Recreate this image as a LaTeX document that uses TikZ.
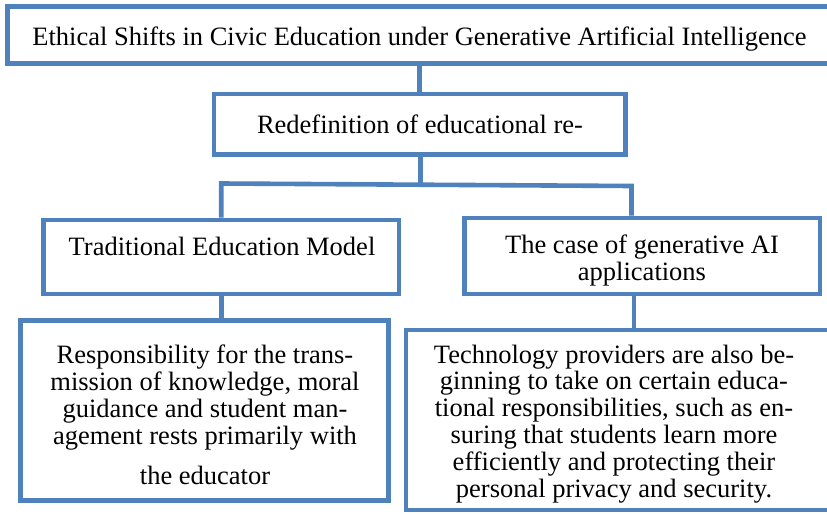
\documentclass[tikz,border=0pt]{standalone}
\usepackage{fontspec}
\setmainfont{Liberation Serif}
\definecolor{frame}{RGB}{79,129,189}
\tikzset{
  box/.style={draw=frame, line width=4.6pt, fill=white, rectangle, inner sep=0pt},
  link/.style={draw=frame, line width=4.6pt, line join=miter},
  boxtext/.style={font=\fontsize{26.5}{26.8}\selectfont, inner sep=0pt, align=center},
}
\begin{document}
\begin{tikzpicture}[x=1pt,y=-1pt]
\path[use as bounding box] (0,0) rectangle (827,514);
\clip (0,0) rectangle (827,514);
\fill[white] (0,0) rectangle (827,514);

% frames
\node[box, minimum width=823.5pt, minimum height=57pt]   (top)  at (419.25,35)  {};
\node[box, minimum width=411.5pt, minimum height=60.5pt] (red)  at (419.75,124.25) {};
\node[box, minimum width=355.5pt, minimum height=74pt]   (trad) at (221.25,257) {};
\node[box, minimum width=355.5pt, minimum height=76pt]   (case) at (642.25,256) {};
\node[box, minimum width=368pt,   minimum height=180pt]  (resp) at (204.5,410.5) {};
\node[box, minimum width=426pt,   minimum height=180pt]  (tech) at (619,420) {};

% branch points
\coordinate (jl) at (221.25,183.5);
\coordinate (jr) at (631.5,186);
\coordinate (jm) at (420.5,185);

% connectors
\draw[link] (top.south -| red.north) -- (red.north);
\draw[link] ([xshift=0.75pt]red.south) -- (jm);
\draw[link] (trad.north) -- (jl) -- (jr) -- (jr |- case.north);
\draw[link] (trad.south) -- (trad.south |- resp.north);
\draw[link] ([xshift=-8.25pt]case.south) -- ([xshift=-8.25pt]case.south |- tech.north);

% texts
\node[boxtext, anchor=base] (topt) at (419.4,45)
  {Ethical Shifts in Civic Education under Generative Artificial Intelligence};
\node[boxtext, anchor=base] (redt) at (420,133) {Redefinition of educational re-};
\node[boxtext, anchor=base] (tradt) at (222,255) {Traditional Education Model};
\node[boxtext] (caset) at (642,260.8) {The case of generative AI\\applications};
\node[boxtext] (respt) at (205,415.1)
  {Responsibility for the trans-\\mission of knowledge, moral\\guidance and student man-\\agement rests primarily with\\[14pt]the educator};
\node[boxtext] (techt) at (614,423.8)
  {Technology providers are also be-\\ginning to take on certain educa-\\tional responsibilities, such as en-\\suring that students learn more\\efficiently and protecting their\\personal privacy and security.};
\end{tikzpicture}
\end{document}
